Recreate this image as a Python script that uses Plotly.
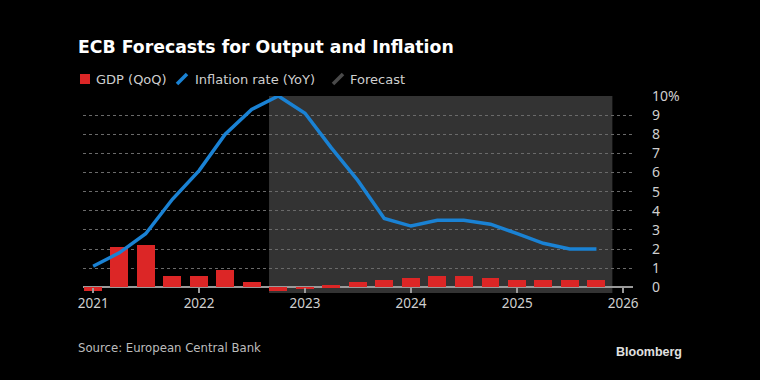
import plotly.graph_objects as go

# ---- data ----
quarters = ["2021-01-01", "2021-04-01", "2021-07-01", "2021-10-01",
            "2022-01-01", "2022-04-01", "2022-07-01", "2022-10-01",
            "2023-01-01", "2023-04-01", "2023-07-01", "2023-10-01",
            "2024-01-01", "2024-04-01", "2024-07-01", "2024-10-01",
            "2025-01-01", "2025-04-01", "2025-07-01", "2025-10-01"]
gdp_qoq = [-0.2, 2.1, 2.2, 0.6, 0.6, 0.9, 0.3, -0.2, -0.1, 0.1,
           0.3, 0.4, 0.5, 0.6, 0.6, 0.5, 0.4, 0.4, 0.4, 0.4]
inflation_yoy = [1.1, 1.8, 2.8, 4.6, 6.1, 8.0, 9.3, 10.0, 9.1, 7.3,
                 5.6, 3.6, 3.2, 3.5, 3.5, 3.3, 2.8, 2.3, 2.0, 2.0]
forecast_start = "2022-08-30"
forecast_end = "2025-11-25"
x_ticks = ["2021-01-01", "2022-01-01", "2023-01-01", "2024-01-01", "2025-01-01", "2026-01-01"]
x_tick_text = ["2021", "2022", "2023", "2024", "2025", "2026"]
y_ticks = [0, 1, 2, 3, 4, 5, 6, 7, 8, 9, 10]
y_tick_text = ["0", "1", "2", "3", "4", "5", "6", "7", "8", "9", "10%"]

W, H = 760, 380
L, R, T, B = 83, 127, 96, 87
PW, PH = W - L - R, H - T - B


def px(x):
    return (x - L) / PW


def py(y):
    return (H - B - y) / PH


RED = "#dc2626"
BLUE = "#1a82d4"
TXT = "#cfcfcf"

fig = go.Figure()
fig.add_trace(go.Bar(x=quarters, y=gdp_qoq, marker_color=RED, marker_line_width=0,
                     width=62 * 86400000, name="GDP (QoQ)", showlegend=False))
fig.add_trace(go.Scatter(x=quarters, y=inflation_yoy, mode="lines",
                         line=dict(color=BLUE, width=3.5), name="Inflation rate (YoY)",
                         showlegend=False))

shapes = [
    dict(type="rect", xref="x", yref="paper", x0=forecast_start, x1=forecast_end,
         y0=0, y1=py(96), fillcolor="#333333", line_width=0, layer="below"),
    # legend symbols
    dict(type="rect", xref="paper", yref="paper", x0=px(80), x1=px(90), y0=py(84), y1=py(74),
         fillcolor=RED, line_width=0),
    dict(type="line", xref="paper", yref="paper", x0=px(177), x1=px(187), y0=py(84), y1=py(74),
         line=dict(color=BLUE, width=3.5)),
    dict(type="line", xref="paper", yref="paper", x0=px(333), x1=px(343), y0=py(84), y1=py(74),
         line=dict(color="#4a4a4a", width=3.5)),
]

lf = dict(family="DejaVu Sans", size=13, color=TXT)
annotations = [
    dict(text="GDP (QoQ)", x=px(94), y=py(79), xref="paper", yref="paper",
         xanchor="left", yanchor="middle", showarrow=False, font=lf),
    dict(text="Inflation rate (YoY)", x=px(193), y=py(79), xref="paper", yref="paper",
         xanchor="left", yanchor="middle", showarrow=False, font=lf),
    dict(text="Forecast", x=px(348), y=py(79), xref="paper", yref="paper",
         xanchor="left", yanchor="middle", showarrow=False, font=lf),
    dict(text="Source: European Central Bank", x=px(76), y=py(347), xref="paper", yref="paper",
         xanchor="left", yanchor="middle", showarrow=False,
         font=dict(family="DejaVu Sans Condensed, DejaVu Sans", size=13, color="#bdbdbd")),
    dict(text="<b>Bloomberg</b>", x=px(614), y=py(352), xref="paper", yref="paper",
         xanchor="left", yanchor="middle", showarrow=False,
         font=dict(family="Liberation Sans", size=12.5, color="#e0e0e0")),
]

fig.update_layout(
    width=W, height=H,
    margin=dict(l=L, r=R, t=T, b=B),
    paper_bgcolor="#000000", plot_bgcolor="#000000",
    title=dict(text="<b>ECB Forecasts for Output and Inflation</b>", x=78 / W, xanchor="left",
               y=1 - 47 / H, yanchor="middle",
               font=dict(family="DejaVu Sans", size=17.3, color="#ffffff")),
    shapes=shapes, annotations=annotations,
    bargap=0,
    xaxis=dict(type="date", range=["2020-11-27", "2026-02-04"], tickvals=x_ticks,
               ticktext=x_tick_text, showgrid=False, zeroline=False, showline=False,
               ticks="inside", ticklen=5, tickcolor="#9a9a9a", tickwidth=1.5,
               tickfont=dict(family="Noto Sans", size=13.5, color=TXT)),
    yaxis=dict(range=[-0.3, 10], side="right", tickvals=y_ticks, ticktext=y_tick_text,
               showgrid=True, gridcolor="#6a6a6a", griddash="dot", gridwidth=1,
               zeroline=True, zerolinecolor="#9a9a9a", zerolinewidth=1.5,
               showline=False, ticks="", ticklabelstandoff=18,
               tickfont=dict(family="Noto Sans", size=14, color=TXT)),
)

fig.write_html("out.html", config={"displayModeBar": False},
               post_script="document.body.style.margin='0';document.body.style.background='#000';")
